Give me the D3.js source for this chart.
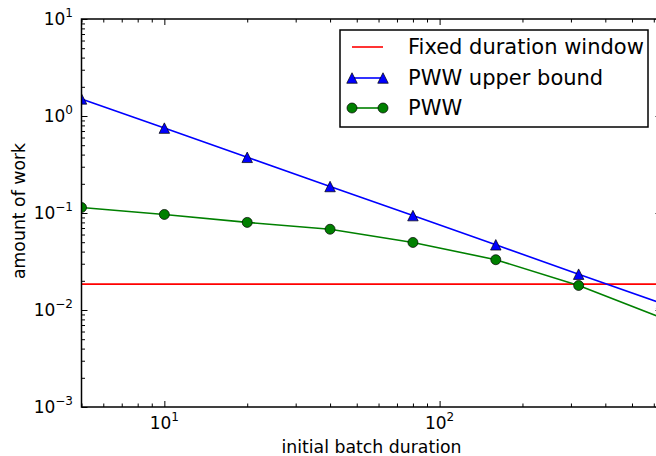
<!DOCTYPE html>
<html>
<head>
<meta charset="utf-8">
<script src="https://cdnjs.cloudflare.com/ajax/libs/d3/7.8.5/d3.min.js"></script>
<style>
  body { margin: 0; background: #fff; }
  svg { font-family: "DejaVu Sans", sans-serif; display: block; }
</style>
</head>
<body>
<svg id="viz" width="656" height="456"></svg>
<script>
// DATA
var durations = [5, 10, 20, 40, 80, 160, 320, 640];
var upperBound = [1.5, 0.75, 0.375, 0.1875, 0.094, 0.047, 0.0234, 0.0117];
var pww = [0.114, 0.0966, 0.080, 0.068, 0.0497, 0.033, 0.0179, 0.0083];
var fixedWindow = 0.0185;
var xDomain = [5, 640];
var yDomain = [1e-3, 10];
var xMajor = [10, 100];
var yMajor = [1e-3, 1e-2, 1e-1, 1, 10];
var seriesNames = ["Fixed duration window", "PWW upper bound", "PWW"];
var xLabel = "initial batch duration";
var yLabel = "amount of work";

(function () {
    'use strict';
    var svg = d3.select("#viz");
    var margin = { top: 19, left: 81.5 };
    var w = 580, h = 388; // right spine falls just outside the picture
    var LW = 1.6;

    var x = d3.scaleLog().domain(xDomain).range([margin.left, margin.left + w]);
    var y = d3.scaleLog().domain(yDomain).range([margin.top + h, margin.top]);

    // minor ticks 2..9 for each decade
    function minors(dom) {
        var out = [];
        var lo = Math.floor(Math.log10(dom[0])), hi = Math.ceil(Math.log10(dom[1]));
        for (var k = lo; k < hi; k++) {
            for (var m = 2; m <= 9; m++) {
                var v = m * Math.pow(10, k);
                if (v >= dom[0] && v <= dom[1]) out.push(v);
            }
        }
        return out;
    }
    var MAJ = 6, MIN = 3.5;

    function tickGroup(axisFn, scale, vals, size, tx, ty) {
        var g = svg.append("g")
            .attr("transform", "translate(" + tx + "," + ty + ")")
            .call(axisFn(scale).tickValues(vals).tickSizeInner(size).tickSizeOuter(0).tickFormat(""));
        g.select(".domain").remove();
        g.selectAll(".tick line").attr("stroke", "#000").attr("stroke-width", 1);
    }
    // bottom / top / left / right ticks, all pointing in
    tickGroup(d3.axisBottom, x, xMajor, -MAJ, 0, margin.top + h);
    tickGroup(d3.axisBottom, x, minors(xDomain), -MIN, 0, margin.top + h);
    tickGroup(d3.axisTop, x, xMajor, -MAJ, 0, margin.top);
    tickGroup(d3.axisTop, x, minors(xDomain), -MIN, 0, margin.top);
    tickGroup(d3.axisLeft, y, yMajor, -MAJ, margin.left, 0);
    tickGroup(d3.axisLeft, y, minors(yDomain), -MIN, margin.left, 0);
    tickGroup(d3.axisRight, y, yMajor, -MAJ, margin.left + w, 0);
    tickGroup(d3.axisRight, y, minors(yDomain), -MIN, margin.left + w, 0);

    // tick labels as 10^k
    function expLabel(sel, v) {
        var e = Math.round(Math.log10(v));
        sel.append("tspan").text("10");
        sel.append("tspan").attr("font-size", 12).attr("dy", -8)
            .text(e < 0 ? "\u2212" + (-e) : String(e));
    }
    xMajor.forEach(function (v) {
        var t = svg.append("text").attr("x", x(v)).attr("y", 429)
            .attr("text-anchor", "middle").attr("font-size", 17);
        expLabel(t, v);
    });
    yMajor.forEach(function (v) {
        var t = svg.append("text").attr("x", margin.left - 8.5).attr("y", y(v) + 6)
            .attr("text-anchor", "end").attr("font-size", 17);
        expLabel(t, v);
    });

    svg.append("text").attr("x", margin.left + 290).attr("y", 453)
        .attr("text-anchor", "middle").attr("font-size", 17.3).text(xLabel);
    svg.append("text").attr("transform", "translate(25," + (margin.top + h / 2 - 2) + ") rotate(-90)")
        .attr("text-anchor", "middle").attr("font-size", 17.3).text(yLabel);

    // PLOT
    svg.append("clipPath").attr("id", "clip").append("rect")
        .attr("x", margin.left).attr("y", margin.top).attr("width", w).attr("height", h);
    var plot = svg.append("g").attr("clip-path", "url(#clip)");

    var line = d3.line()
        .x(function (d) { return x(d[0]); })
        .y(function (d) { return y(d[1]); });

    plot.append("path")
        .datum([[xDomain[0], fixedWindow], [xDomain[1], fixedWindow]])
        .attr("d", line).attr("fill", "none").attr("stroke", "#ff0000").attr("stroke-width", LW);

    var ub = durations.map(function (d, i) { return [d, upperBound[i]]; });
    var pw = durations.map(function (d, i) { return [d, pww[i]]; });

    function triangle(g, cx, cy) {
        // matplotlib '^' : equal width and height
        var s = 10.5;
        g.append("path")
            .attr("d", "M" + cx + "," + (cy - s / 2) + "L" + (cx + s / 2) + "," + (cy + s / 2) + "L" + (cx - s / 2) + "," + (cy + s / 2) + "Z")
            .attr("fill", "#0000ff").attr("stroke", "#000").attr("stroke-width", 0.7);
    }
    function circle(g, cx, cy) {
        g.append("circle").attr("cx", cx).attr("cy", cy).attr("r", 5)
            .attr("fill", "#008000").attr("stroke", "#000").attr("stroke-width", 0.7);
    }

    plot.append("path").datum(ub).attr("d", line)
        .attr("fill", "none").attr("stroke", "#0000ff").attr("stroke-width", LW);
    ub.forEach(function (d) { triangle(plot, x(d[0]), y(d[1])); });

    plot.append("path").datum(pw).attr("d", line)
        .attr("fill", "none").attr("stroke", "#008000").attr("stroke-width", LW);
    pw.forEach(function (d) { circle(plot, x(d[0]), y(d[1])); });

    // spines
    svg.append("rect").attr("x", margin.left).attr("y", margin.top)
        .attr("width", w).attr("height", h)
        .attr("fill", "none").attr("stroke", "#000").attr("stroke-width", 1.5);

    // LEGEND
    var leg = svg.append("g");
    leg.append("rect").attr("x", 340).attr("y", 30).attr("width", 308).attr("height", 97)
        .attr("fill", "#fff").attr("stroke", "#000").attr("stroke-width", 1.5);
    var rowY = [47, 78, 108];
    var colors = ["#ff0000", "#0000ff", "#008000"];
    seriesNames.forEach(function (name, i) {
        leg.append("line").attr("x1", 352).attr("x2", 383).attr("y1", rowY[i]).attr("y2", rowY[i])
            .attr("stroke", colors[i]).attr("stroke-width", LW);
        if (i === 1) { triangle(leg, 352, rowY[i]); triangle(leg, 383, rowY[i]); }
        if (i === 2) { circle(leg, 352, rowY[i]); circle(leg, 383, rowY[i]); }
        leg.append("text").attr("x", 408).attr("y", rowY[i] + 7)
            .attr("font-size", 21).text(name);
    });
}());
</script>
</body>
</html>
